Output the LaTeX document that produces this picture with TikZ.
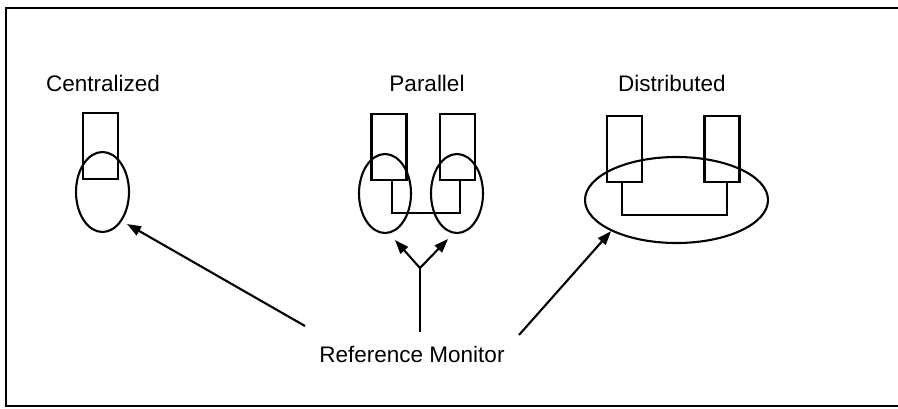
\documentclass[tikz,border=0pt]{standalone}
\usepackage{fontspec}
\setmainfont{Liberation Sans}
\usetikzlibrary{shapes.geometric,arrows.meta}
\begin{document}
\begin{tikzpicture}[x=1pt,y=-1pt,line width=2.1pt,
  lbl/.style={font=\fontsize{22.5}{26}\selectfont,inner sep=0pt,anchor=base},
  box/.style={draw,rectangle,inner sep=0pt,minimum width=35pt,minimum height=66pt},
  ring/.style={draw,ellipse,inner sep=0pt},
  arr/.style={-{Triangle[length=14pt,width=10pt]},line width=2.1pt}]
\useasboundingbox (0,0) rectangle (898,408);
\draw[line width=2.2pt] (898,8) -- (6,8) -- (6,406) -- (898,406);
% labels
\node[lbl] (tc) at (103,91) {Centralized};
\node[lbl] (tp) at (427,91) {Parallel};
\node[lbl] (td) at (672,91) {Distributed};
\node[lbl] (rm) at (412,362) {Reference Monitor};
% centralized
\node[box] (c1) at (100.5,146) {};
\node[ring,minimum width=53pt,minimum height=80pt] (ce) at (102.5,192) {};
% parallel
\node[box] (p1) at (389,147) {};
\node[box] (p2) at (457.5,147) {};
\draw (392,180) -- (392,213) -- (460,213) -- (460,180);
\node[ring,minimum width=52pt,minimum height=79pt] (pe1) at (385,193.5) {};
\node[ring,minimum width=52pt,minimum height=79pt] (pe2) at (457,193.5) {};
% distributed
\node[box] (d1) at (624.5,149) {};
\node[box] (d2) at (722,149) {};
\draw (622,182) -- (622,215) -- (727,215) -- (727,182);
\node[ring,minimum width=183pt,minimum height=86pt] (de) at (676.5,200) {};
% connectors
\coordinate (a1) at (305,326);
\coordinate (a2) at (420,332);
\coordinate (fk) at (420,268);
\coordinate (a3) at (519,335);
\draw[arr] (a1) -- (127,224);
\draw (a2) -- (fk);
\draw[arr] (fk) -- (395,240);
\draw[arr] (fk) -- (448,239);
\draw[arr] (a3) -- (de.south west);
\end{tikzpicture}
\end{document}
